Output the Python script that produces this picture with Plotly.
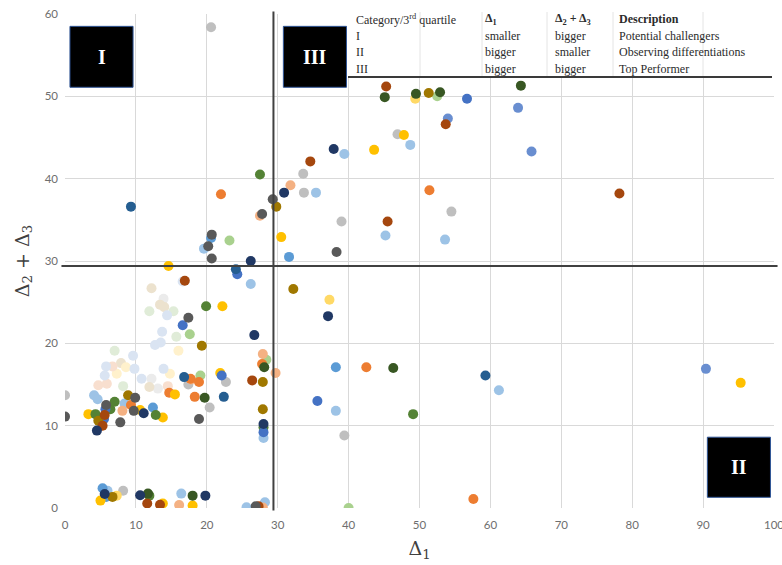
import plotly.graph_objects as go

# Δ1 (x) and Δ2+Δ3 (y) per group of scatter points
navy_x = [5.6, 10.6, 19.8, 4.5, 28.0, 26.7, 26.2, 30.9, 37.9, 37.1, 11.1]
navy_y = [1.7, 1.55, 1.5, 9.4, 10.2, 21.0, 30.0, 38.3, 43.6, 23.3, 11.5]

steel_x = [9.3, 59.3, 22.4, 16.8, 24.1]
steel_y = [36.6, 16.1, 13.5, 15.9, 29.0]

blue_x = [24.3, 56.7, 35.6, 16.6, 5.7, 5.5, 28.0, 22.1]
blue_y = [28.4, 49.7, 13.0, 22.2, 12.0, 10.8, 9.2, 16.1]

midblue_x = [54.0, 65.8, 63.9, 90.4]
midblue_y = [47.3, 43.3, 48.6, 16.9]

ltblue_x = [5.3, 5.8, 31.6, 38.2, 20.6, 12.4]
ltblue_y = [2.4, 1.35, 30.5, 17.1, 32.8, 12.2]

skyblue_x = [6.0, 16.4, 25.6, 28.2, 39.4, 48.7, 45.2, 53.6, 61.2, 38.2, 26.2, 19.6, 35.4, 28.0, 4.1, 4.6, 8.4]
skyblue_y = [2.1, 1.75, 0.1, 0.7, 43.0, 44.1, 33.1, 32.6, 14.3, 11.8, 27.2, 31.5, 38.3, 8.5, 13.7, 13.2, 12.7]

orange_x = [22.0, 51.4, 42.5, 27.8, 17.7, 18.9, 18.3, 9.3, 14.7, 57.6]
orange_y = [38.1, 38.6, 17.1, 17.5, 15.7, 15.3, 13.5, 12.5, 14.0, 1.1]

peach_x = [31.8, 27.5, 27.9, 29.7, 16.1, 27.9, 17.8, 8.1]
peach_y = [39.2, 35.5, 18.7, 16.4, 0.35, 0.05, 15.6, 11.8]

rust_x = [45.3, 53.7, 34.6, 78.2, 45.5, 16.9, 26.4, 11.6, 13.4, 27.3, 5.6, 5.3]
rust_y = [51.2, 46.6, 42.1, 38.2, 34.8, 27.6, 15.5, 0.55, 0.4, 0.2, 11.3, 10.0]

gold_x = [47.8, 43.6, 30.5, 22.2, 21.9, 95.3, 14.6, 5.0, 13.8, 18.0, 3.3, 10.6, 13.8, 15.5]
gold_y = [45.3, 43.5, 32.9, 24.5, 16.4, 15.2, 29.4, 0.9, 0.55, 0.3, 11.4, 11.9, 11.0, 13.8]

ltgold_x = [49.4, 37.3, 7.3]
ltgold_y = [49.7, 25.3, 1.5]

ochre_x = [51.3, 29.8, 32.2, 19.3, 27.9, 27.9, 6.7, 4.7, 8.9]
ochre_y = [50.4, 36.6, 26.6, 19.7, 15.3, 12.0, 1.35, 10.6, 13.7]

green_x = [27.5, 19.9, 49.1, 28.0, 11.9, 4.3, 6.4, 7.0, 12.8]
green_y = [40.5, 24.5, 11.4, 9.8, 1.5, 11.4, 12.0, 12.9, 11.3]

ltgreen_x = [23.2, 17.6, 28.4, 19.1, 40.0, 52.5]
ltgreen_y = [32.5, 21.1, 18.0, 16.1, 0.0, 50.0]

dgreen_x = [45.1, 49.5, 52.9, 64.3, 46.3, 28.1, 19.7, 11.7, 18.0]
dgreen_y = [49.9, 50.3, 50.5, 51.3, 17.0, 17.1, 13.4, 1.75, 1.5]

grey_x = [20.6, 33.6, 33.7, 46.9, 39.0, 54.5, 22.7, 17.4, 20.4, 39.4, 8.2, 0.0]
grey_y = [58.4, 40.6, 38.3, 45.4, 34.8, 36.0, 15.3, 15.0, 12.2, 8.8, 2.1, 13.7]

dgrey_x = [20.7, 20.2, 20.7, 29.3, 27.8, 38.3, 17.4, 18.9, 0.0, 5.8, 7.8, 9.9, 9.7, 26.9]
dgrey_y = [33.2, 31.8, 30.3, 37.5, 35.7, 31.1, 23.1, 10.8, 11.1, 12.5, 10.4, 13.4, 11.8, 0.2]

paleblue_x = [16.6, 14.4, 13.7, 12.7, 13.5, 9.6, 5.8, 9.8, 10.8, 13.9, 5.6]
paleblue_y = [27.5, 23.4, 21.4, 19.8, 20.1, 18.5, 17.2, 16.9, 15.7, 16.9, 16.1]

paletan_x = [12.2, 13.4, 14.0, 7.9, 11.9]
paletan_y = [26.7, 24.7, 24.4, 17.6, 14.7]

palegreen_x = [11.9, 15.3, 15.7, 7.0, 8.2]
palegreen_y = [23.9, 23.9, 20.8, 19.1, 14.8]

palegold_x = [16.0, 8.6, 14.8, 7.3]
palegold_y = [19.1, 17.1, 16.3, 16.3]

palepeach_x = [6.7, 4.7, 5.9, 14.5]
palepeach_y = [17.2, 14.9, 15.1, 14.8]

palegrey_x = [13.9, 12.2, 13.1]
palegrey_y = [25.4, 15.7, 14.5]

# 3rd-quartile thresholds that split the quadrants
q_x = 29.4
q_y = 29.4

# legend table
table_header = ["Category/3<sup>rd</sup> quartile", "<b>Δ<sub>1</sub></b>", "<b>Δ<sub>2</sub> + Δ<sub>3</sub></b>", "<b>Description</b>"]
table_rows = [
    ["I", "smaller", "bigger", "Potential challengers"],
    ["II", "bigger", "smaller", "Observing differentiations"],
    ["III", "bigger", "bigger", "Top Performer"],
]

groups = [
    (palegrey_x, palegrey_y, "#EBEBEB"),
    (paletan_x, paletan_y, "#ECE2CE"),
    (palegreen_x, palegreen_y, "#E0ECD8"),
    (palegold_x, palegold_y, "#FFF1CC"),
    (palepeach_x, palepeach_y, "#F8DFCF"),
    (paleblue_x, paleblue_y, "#DAE4F2"),
    (grey_x, grey_y, "#BFBFBF"),
    (skyblue_x, skyblue_y, "#9DC3E6"),
    (ltgreen_x, ltgreen_y, "#A9D18E"),
    (peach_x, peach_y, "#F4B183"),
    (ltgold_x, ltgold_y, "#FFD966"),
    (midblue_x, midblue_y, "#698ED0"),
    (ltblue_x, ltblue_y, "#5B9BD5"),
    (orange_x, orange_y, "#ED7D31"),
    (gold_x, gold_y, "#FFC000"),
    (green_x, green_y, "#548235"),
    (blue_x, blue_y, "#4472C4"),
    (steel_x, steel_y, "#255E91"),
    (ochre_x, ochre_y, "#A07800"),
    (rust_x, rust_y, "#A5470E"),
    (dgreen_x, dgreen_y, "#385723"),
    (dgrey_x, dgrey_y, "#595959"),
    (navy_x, navy_y, "#203864"),
]

fig = go.Figure()
for gx, gy, col in groups:
    fig.add_trace(go.Scatter(
        x=gx, y=gy, mode="markers",
        marker=dict(size=10, color=col, line=dict(width=0)),
        showlegend=False, hoverinfo="x+y",
    ))

shapes = []
# quadrant separators
shapes.append(dict(type="line", xref="x", yref="paper", x0=q_x, x1=q_x, y0=-0.005, y1=1.005,
                   line=dict(color="#404040", width=2), layer="above"))
shapes.append(dict(type="line", xref="paper", yref="y", x0=-0.005, x1=1.005, y0=q_y, y1=q_y,
                   line=dict(color="#404040", width=2), layer="above"))

# quadrant labels on black tiles
tiles = [("I", 0.7, 9.6, 51.1, 58.5), ("III", 30.8, 39.7, 51.1, 58.5), ("II", 90.6, 99.5, 1.3, 8.6)]
annotations = []
for lab, x0, x1, y0, y1 in tiles:
    shapes.append(dict(type="rect", xref="x", yref="y", x0=x0, x1=x1, y0=y0, y1=y1,
                       fillcolor="black", line=dict(color="#2F5597", width=1), layer="above"))
    annotations.append(dict(x=(x0 + x1) / 2, y=(y0 + y1) / 2, xref="x", yref="y", text="<b>%s</b>" % lab,
                            showarrow=False, font=dict(family="Liberation Serif", size=20, color="white")))

# table block in the upper right
tab_left, tab_right = 348, 772
W, H = 782, 565
ml, mr, mt, mb = 65, 8, 14, 57
pw, ph = W - ml - mr, H - mt - mb


def px2paper(px, py):
    return (px - ml) / pw, 1 - (py - mt) / ph


x0p, y0p = px2paper(tab_left, 12)
x1p, y1p = px2paper(tab_right, 77)
shapes.append(dict(type="rect", xref="paper", yref="paper", x0=x0p, x1=x1p, y0=y1p, y1=y0p,
                   fillcolor="white", line=dict(width=0), layer="above"))
for cx in [420, 482, 547, 613, 703]:
    a, _ = px2paper(cx, 0)
    shapes.append(dict(type="line", xref="paper", yref="paper", x0=a, x1=a, y0=y1p, y1=y0p,
                       line=dict(color="#E4E4E4", width=1), layer="above"))
shapes.append(dict(type="line", xref="paper", yref="paper", x0=x0p, x1=x1p, y0=y1p, y1=y1p,
                   line=dict(color="#3A3A3A", width=2), layer="above"))

col_px = [354, 483, 553, 617]
row_py = [19, 36, 52, 69]
for r, row in enumerate([table_header] + table_rows):
    for c, txt in enumerate(row):
        ax, ay = px2paper(col_px[c], row_py[r])
        annotations.append(dict(x=ax, y=ay, xref="paper", yref="paper", text=txt, showarrow=False,
                                xanchor="left", yanchor="middle",
                                font=dict(family="Liberation Serif", size=12, color="#2B2B2B")))

fig.update_layout(
    width=W, height=H,
    margin=dict(l=ml, r=mr, t=mt, b=mb, autoexpand=False),
    paper_bgcolor="white", plot_bgcolor="white",
    shapes=shapes, annotations=annotations,
    xaxis=dict(range=[0, 100], dtick=10, showgrid=True, gridcolor="#D9D9D9", gridwidth=1,
               zeroline=False, showline=False, ticks="", ticklabelstandoff=8,
               ticklabeloverflow="allow", automargin=False,
               tickfont=dict(family="Lato", size=11.5, color="#6E6E6E"),
               title=dict(text="Δ<sub>1</sub>", font=dict(family="DejaVu Serif", size=19, color="#404040"),
                          standoff=12)),
    yaxis=dict(range=[0, 60], dtick=10, showgrid=True, gridcolor="#D9D9D9", gridwidth=1,
               zeroline=False, showline=False, ticks="", ticklabelstandoff=6, automargin=False,
               tickfont=dict(family="Lato", size=11.5, color="#6E6E6E"),
               title=dict(text="Δ<sub>2</sub> + Δ<sub>3</sub>",
                          font=dict(family="DejaVu Serif", size=19, color="#404040"), standoff=10)),
)

fig.write_html("out.html")
